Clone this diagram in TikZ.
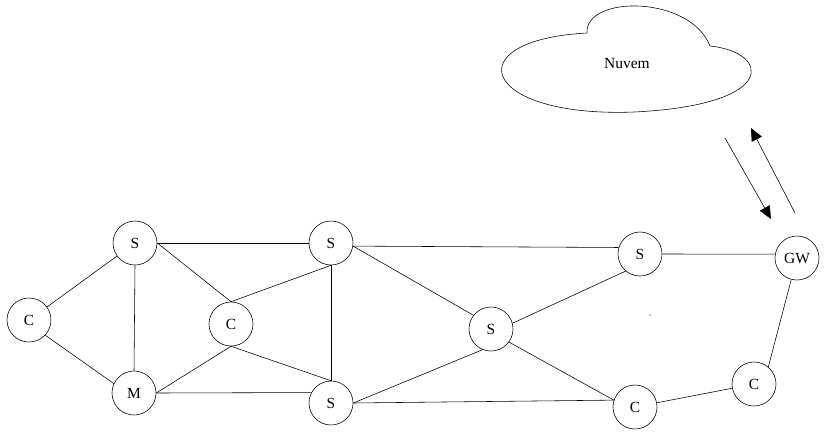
\documentclass[tikz,border=0pt]{standalone}
\usepackage{fontspec}
\setmainfont{Liberation Serif}
\usetikzlibrary{arrows.meta}

\begin{document}
\begin{tikzpicture}[x=0.025cm,y=-0.025cm]
\tikzset{no/.style = {draw,circle,minimum size=1.1cm,inner sep=0pt,font=\fontsize{11}{13}\selectfont}}
\tikzset{edge/.style = {->,>={Triangle[length=9pt,width=8pt]}}}
\useasboundingbox (0,0) rectangle (828,435);

% nuvem
\draw (587,33) .. controls (585,-5) and (690,-5) .. (710,46)
  .. controls (770,52) and (780,105) .. (634,112)
  .. controls (480,118) and (455,40) .. (587,33);
\node (n) at (627,64) {\fontsize{11}{13}\selectfont Nuvem};

\node[no] (c1) at (29,320) {C};
\node[no] (s1) at (135,243) {S};
\node[no] (m) at (134,393) {M};
\node[no] (c2) at (231,324) {C};
\node[no] (s2) at (331,243) {S};
\node[no] (s3) at (331,403) {S};
\node[no] (s4) at (491,329) {S};
\node[no] (s5) at (640,254) {S};
\node[no] (c3) at (635,407) {C};
\node[no] (c4) at (754,384) {C};
\node[no] (gw) at (797,258) {GW};

\coordinate (a1) at (725,138);
\coordinate (a2) at (771,219);
\coordinate (b1) at (795,213);
\coordinate (b2) at (751,128);

\draw (c1) -- (s1);
\draw (c1.-43) -- (m.155);
\draw (s1.south) -- (m.north);
\draw (s1.east) -- (s2.west);
\draw (s1.east) -- (c2.north);
\draw (c2.north) -- (s2.south);
\draw (c2.south) -- (s3.north);
\draw (m.east) -- (c2.south);
\draw (m.east) -- (s3.152);
\draw (s2.south) -- (s3.north);
\draw (s2.-8) -- (s5.163);
\draw (s2.-8) -- (s4.142);
\draw (s4.15) -- (s5.230);
\draw (s4.248) -- (s3.east);
\draw (s4.-36) -- (c3.162);
\draw (s3.east) -- (c3.162);
\draw (c3) -- (c4);
\draw (c4.50) -- (gw.255);
\draw (s5.east) -- (gw.170);

\draw[edge] (a1) -- (a2);
\draw[edge] (b1) -- (b2);

\fill (650,315) circle (0.4pt);
\end{tikzpicture}
\end{document}
